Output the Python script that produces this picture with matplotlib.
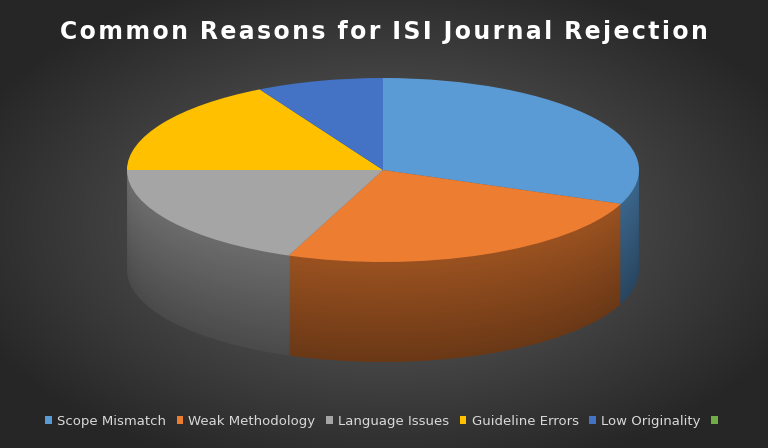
import numpy as np
import matplotlib.pyplot as plt
from matplotlib.colors import to_rgb

labels = ['Scope Mismatch', 'Weak Methodology', 'Language Issues', 'Guideline Errors', 'Low Originality', '']
values = [31, 25, 19, 17, 8, 0]
colors = ['#5B9BD5', '#ED7D31', '#A5A5A5', '#FFC000', '#4472C4', '#70AD47']

W, H = 768, 448
cx, cy, rx, ry, depth = 383, 170, 256, 92, 100

fig = plt.figure(figsize=(7.68, 4.48), dpi=100)
bg = fig.add_axes([0, 0, 1, 1])
yy, xx = np.mgrid[0:H, 0:W]
r = np.sqrt(((xx - W / 2) / W) ** 2 + ((yy - H / 2) / H) ** 2)
g = np.clip(0.40 - 0.30 * r / 0.7, 0.15, 0.40)
bg.imshow(np.dstack([g, g, g]), aspect='auto', extent=[0, 1, 0, 1])
bg.axis('off')

ax = fig.add_axes([0, 0, 1, 1])
ax.patch.set_alpha(0)
d_units = depth / ry
layers = np.linspace(d_units, 0.02, 60)
for i, d in enumerate(layers):
    f = 0.45 + 0.2 * i / len(layers)
    shade = [tuple(c * f for c in to_rgb(col)) for col in colors]
    ax.pie(values, colors=shade, startangle=90, counterclock=False,
           center=(0, -d), frame=True, radius=1)
wedges, _ = ax.pie(values, colors=colors, startangle=90, counterclock=False,
                   center=(0, 0), frame=True, radius=1)
ax.set_xlim(-cx / rx, (W - cx) / rx)
ax.set_ylim(-(H - cy) / ry, cy / ry)
ax.set_aspect('auto')
ax.axis('off')

fig.text(0.5, 1 - 32 / H, 'C o m m o n   R e a s o n s   f o r   I S I   J o u r n a l   R e j e c t i o n'.replace('   ', '\u2002').replace(' ', '\u200a'),
         color='white', fontsize=17, fontweight='bold', ha='center', va='center')
fig.legend(wedges, labels, loc='center', bbox_to_anchor=(0.5, 1 - 421 / H), ncol=6,
           frameon=False, fontsize=9.5, labelcolor='#d9d9d9', handlelength=0.5,
           handleheight=0.5, handletextpad=0.4, columnspacing=0.8)
fig.savefig('out.png', dpi=100)
